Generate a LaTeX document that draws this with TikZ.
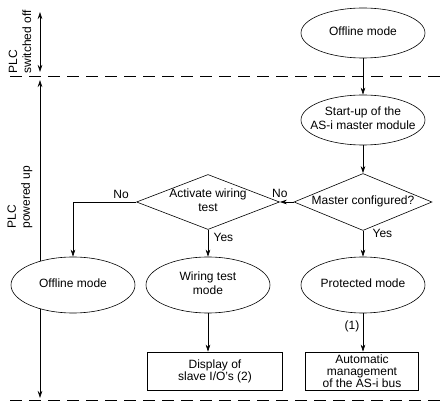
\documentclass[tikz,border=0pt]{standalone}
\usepackage{fontspec}
\setmainfont{Liberation Sans}
\usetikzlibrary{shapes.geometric,arrows.meta}
\newcommand{\nowidth}[1]{\makebox[0pt]{\begin{tabular}{@{}c@{}}#1\end{tabular}}}

\begin{document}
\begin{tikzpicture}[x=1pt,y=-1pt,line width=0.6pt,
    every node/.style={font=\fontsize{12}{14}\selectfont},
    modeell/.style={ellipse,draw,fill=white,minimum width=124pt,minimum height=50pt,inner sep=0pt},
    decision/.style={diamond,draw,fill=white,minimum width=140pt,minimum height=57pt,inner sep=0pt},
    actionbox/.style={rectangle,draw,fill=white,minimum height=38pt,inner sep=1pt,align=center,font=\fontsize{12}{12}\selectfont},
    arr/.style={-{Stealth[length=7pt,width=4.5pt]}},
    dblarr/.style={{Stealth[length=7pt,width=4.5pt]}-{Stealth[length=7pt,width=4.5pt]}},
    phase/.style={dash pattern=on 12pt off 7pt}]
\useasboundingbox (0,0) rectangle (440,414);

    \draw[phase] (10,76) -- (440,76);
    \draw[phase] (10,400) -- (440,400);
    \coordinate (offtopA) at (40,12);
    \coordinate (offbotA) at (40,72);
    \coordinate (uptopA) at (40,80);
    \coordinate (upbotA) at (40,398);
    \draw[dblarr] (offtopA) -- (offbotA);
    \draw[dblarr] (uptopA) -- (upbotA);
    \node[rotate=90,align=left] (offlabel) at (20,42) {PLC\\switched off};
    \node[rotate=90,align=left] (uplabel) at (20,197) {PLC\\powered up};

\node[modeell] (offtop) at (363,33) {\nowidth{Offline mode}};
\node[modeell] (startup) at (363,120) {\nowidth{Start-up of the\\AS-i master module}};
\node[decision,minimum width=138pt] (master) at (363,202) {\nowidth{Master configured?}};
\node[decision,minimum width=143pt,minimum height=55pt] (wiringq) at (208,202) {\nowidth{Activate wiring\\test}};
\node[modeell,minimum height=56pt] (offleft) at (73,285) {\nowidth{Offline mode}};
\node[modeell,minimum height=56pt] (wiringmode) at (208,285) {\nowidth{Wiring test\\mode}};
\node[modeell,minimum height=56pt] (protected) at (363,285) {\nowidth{Protected mode}};
\node[actionbox,minimum width=135pt] (display) at (215,371) {Display of\\slave I/O's (2)};
\node[actionbox,minimum width=113pt] (automgmt) at (362,371) {Automatic\\management\\of the AS-i bus};

\draw[arr] (offtop) -- (startup);
\draw[arr] (startup) -- (master);
\draw[arr] (master.west) -- node[at end,above=1pt] {No} (wiringq.east);
\draw[arr] (wiringq.west) -| node[pos=0.12,above] {No} (offleft.north);
\draw[arr] (wiringq.south) -- node[pos=0.3,right=2pt] {Yes} (wiringmode.north);
\draw[arr] (master.south) -- node[pos=0.1,right=6pt] {Yes} (protected.north);
\draw[arr] (wiringmode.south) -- (wiringmode.south |- display.north);
\draw[arr] (protected.south) -- node[pos=0.35,left] {(1)} (protected.south |- automgmt.north);
\end{tikzpicture}
\end{document}
